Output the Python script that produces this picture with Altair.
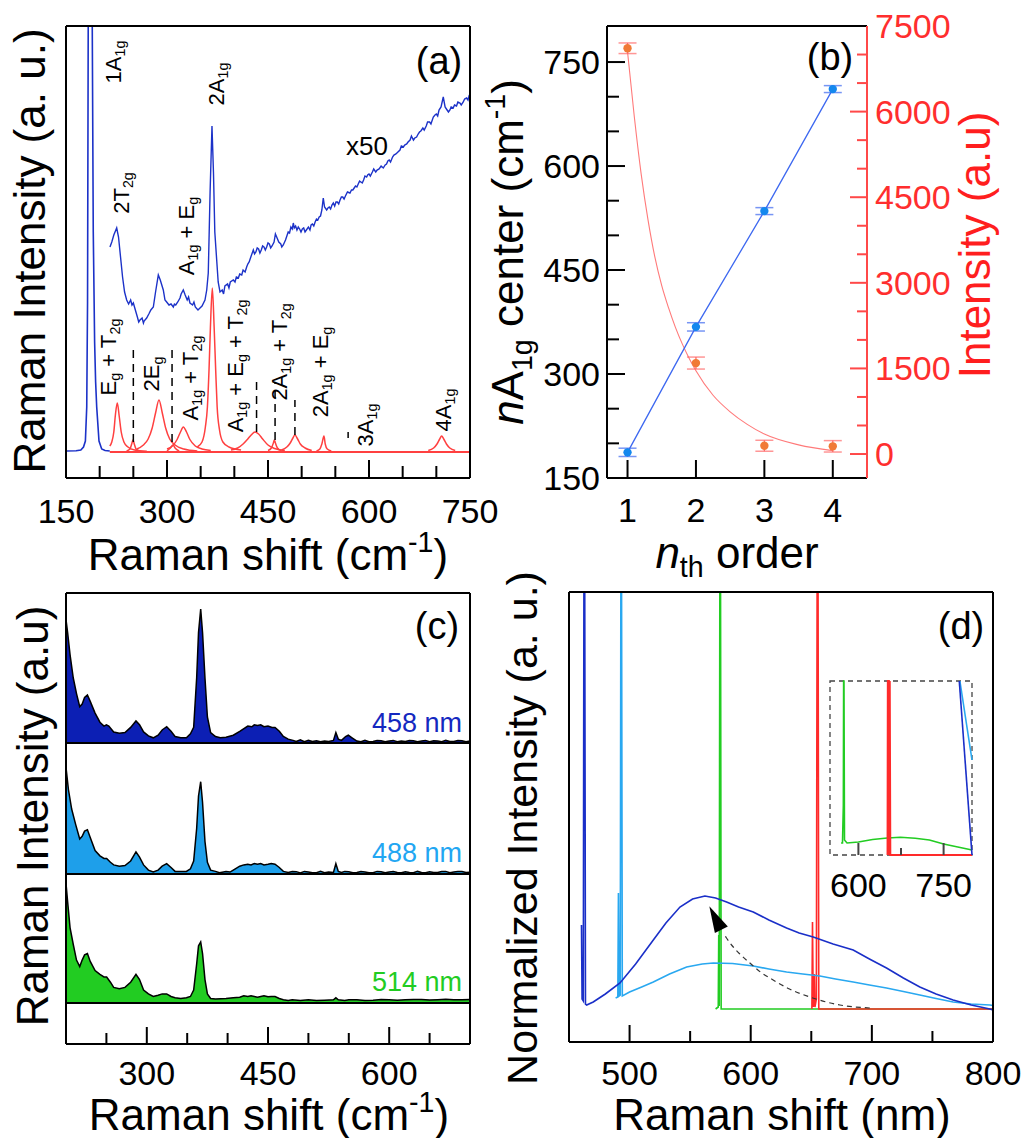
import altair as alt
import pandas as pd

FONT = "Liberation Sans"
W, H = 1027, 1138

# ---------------- Panel (a): Raman spectrum ----------------
A_MAIN = [(150, 0.01), (165, 0.012), (172, 0.02), (176, 0.05), (178.8, 0.11), (180.8, 0.45),
          (182, 1.5), (183, 5.0), (189, 5.0), (190.5, 2.2), (192.5, 1.1), (194, 0.7),
          (195.6, 0.45), (199, 0.11), (203, 0.03), (208, 0.015), (215, 0.01)]
A_X50 = [(215.3, 2.05), (218, 2.1), (221, 2.17), (225.3, 2.24), (228, 2.15), (231, 1.95),
         (234, 1.75), (237, 1.6), (240.1, 1.52), (243, 1.48), (246, 1.52), (248, 1.47), (250, 1.49),
         (253, 1.42), (256, 1.35), (258, 1.3), (259.9, 1.32), (263, 1.34), (265, 1.29), (266, 1.31),
         (269.8, 1.34), (273, 1.38), (276, 1.42), (279.7, 1.45), (283, 1.6), (287.1, 1.77), (290, 1.72),
         (294.5, 1.62), (297, 1.52), (299.5, 1.5), (303, 1.47), (306, 1.48), (309.4, 1.45),
         (311, 1.48), (313, 1.47), (316, 1.5), (319.3, 1.54), (321, 1.58), (324.2, 1.62), (327, 1.57),
         (330, 1.52), (332, 1.55), (334.1, 1.49), (338, 1.47), (340, 1.5), (342, 1.45), (346, 1.42),
         (349, 1.44), (352, 1.46), (356.4, 1.52), (359, 1.62), (361.3, 1.79), (364, 2.6), (366.8, 3.26),
         (369, 2.8), (371, 2.2), (373.8, 1.92), (376, 1.7), (378.7, 1.6), (382, 1.62), (384, 1.58),
         (386, 1.66), (390, 1.68), (392, 1.64), (394, 1.7), (398.5, 1.72), (401, 1.7), (403, 1.75),
         (406, 1.74), (408, 1.78), (411, 1.77), (413, 1.82), (416, 1.8), (418.3, 1.85), (420, 1.88),
         (422, 1.9), (425, 1.96), (428.2, 2.02), (430, 1.98), (432, 2.0), (434, 2.04), (436, 2.03),
         (438, 1.99), (440, 2.02), (442, 2.06), (444, 2.05), (446, 2.02), (448, 2.05), (450, 2.09),
         (452, 2.08), (454, 2.04), (456, 2.06), (459, 2.1), (461, 2.18), (462.9, 2.15), (466, 2.1),
         (469, 2.08), (470.5, 2.05), (472.7, 2.07), (476, 2.12), (478, 2.16), (480, 2.2), (482, 2.19),
         (484, 2.25), (486, 2.23), (487.6, 2.29), (489, 2.24), (491, 2.26), (493, 2.22), (495, 2.25),
         (497, 2.23), (499, 2.2), (501, 2.23), (503, 2.24), (505, 2.2), (507, 2.22), (510, 2.25),
         (512.3, 2.22), (514, 2.27), (516, 2.28), (518, 2.26), (520, 2.3), (522, 2.33), (524, 2.32),
         (526, 2.35), (528, 2.36), (530, 2.42), (532.1, 2.54), (534, 2.45), (537.1, 2.42), (539, 2.44),
         (541, 2.45), (543, 2.43), (545, 2.47), (547, 2.49), (549, 2.46), (551, 2.5), (553, 2.5),
         (555, 2.48), (557, 2.52), (559, 2.55), (561, 2.55), (563, 2.53), (565, 2.56), (568, 2.6),
         (571.7, 2.59), (574, 2.62), (576, 2.62), (578, 2.64), (580, 2.66), (582, 2.65), (584, 2.68),
         (586, 2.71), (588, 2.7), (590, 2.69), (592, 2.72), (594, 2.76), (596.5, 2.75), (598, 2.77),
         (600, 2.78), (602, 2.76), (605, 2.8), (607, 2.83), (610, 2.8), (612, 2.82), (615, 2.83),
         (618, 2.86), (621.2, 2.84), (624, 2.87), (626, 2.88), (628, 2.91), (630, 2.92), (632, 2.9),
         (635, 2.95), (637, 2.97), (640, 2.98), (643, 3.0), (646, 3.02), (648, 3.06), (651, 3.05),
         (653, 3.07), (656, 3.08), (658, 3.1), (661, 3.12), (663, 3.16), (666, 3.12), (668, 3.14),
         (670.7, 3.15), (673, 3.18), (675, 3.2), (677, 3.21), (680, 3.24), (682, 3.22), (685, 3.26),
         (687, 3.3), (690, 3.3), (692, 3.28), (695.5, 3.35), (698, 3.37), (700, 3.38), (702, 3.36),
         (704, 3.42), (707, 3.45), (710.3, 3.55), (713, 3.45), (716, 3.42), (718, 3.4), (720.2, 3.42),
         (722, 3.45), (725, 3.44), (727, 3.47), (730, 3.46), (732, 3.5), (735.1, 3.49), (737, 3.47),
         (740, 3.5), (742, 3.53), (745, 3.54), (747, 3.52), (749, 3.57)]
A_FITS = [
    [(215, 0.06), (218, 0.1), (221, 0.2), (223.5, 0.38), (226.2, 0.49), (229, 0.36), (232, 0.2),
     (236, 0.1), (242, 0.05), (252, 0.02), (270, 0.008)],
    [(240, 0.01), (245, 0.03), (248, 0.09), (249.5, 0.12), (251, 0.09), (254, 0.03), (259, 0.01)],
    [(255, 0.03), (265, 0.07), (272, 0.13), (278, 0.24), (283, 0.39), (288.1, 0.52), (293, 0.39),
     (298, 0.24), (304, 0.13), (312, 0.07), (325, 0.03), (345, 0.01)],
    [(300, 0.01), (305, 0.04), (309, 0.07), (312, 0.04), (318, 0.01)],
    [(300, 0.03), (308, 0.06), (315, 0.125), (320, 0.2), (324.2, 0.25), (329, 0.2), (334, 0.125),
     (342, 0.06), (352, 0.03), (365, 0.015)],
    [(345, 0.05), (352, 0.1), (357, 0.25), (360, 0.45), (362.4, 0.82), (364.5, 1.25), (367.3, 1.64),
     (370, 1.25), (372.3, 0.82), (374.5, 0.45), (378, 0.22), (383, 0.1), (392, 0.05), (410, 0.02)],
    [(395, 0.02), (405, 0.04), (413, 0.08), (420, 0.13), (425, 0.17), (430.7, 0.2), (436, 0.18),
     (442, 0.13), (450, 0.07), (460, 0.035), (475, 0.015)],
    [(450, 0.015), (455, 0.04), (458, 0.09), (459.4, 0.12), (461, 0.09), (464, 0.04), (470, 0.012)],
    [(470, 0.02), (478, 0.05), (483, 0.09), (487, 0.14), (490, 0.17), (494, 0.13), (498, 0.08),
     (505, 0.04), (515, 0.015)],
    [(522, 0.01), (527, 0.03), (530, 0.08), (533.1, 0.16), (535, 0.08), (538, 0.03), (544, 0.01)],
    [(688, 0.015), (696, 0.04), (701, 0.08), (705, 0.13), (707.9, 0.16), (711, 0.13), (715, 0.08),
     (720, 0.04), (728, 0.015)],
]
A_FIT_BASE = [(215, 0.0), (750, 0.0)]
A_DASH_X = [250, 307.5, 433, 460.5, 490, 569]
A_DASH_LO = [0.10, 0.10, 0.20, 0.12, 0.17, 0.14]
A_DASH_HI = [1.04, 1.06, 0.72, 0.69, 0.52, 0.20]
A_TICKS_MINOR = [200, 250, 350, 400, 500, 550, 650, 700]
A_TICKS_MAJOR = [300, 450, 600]
A_LABELS = [150, 300, 450, 600, 750]

# ---------------- Panel (b): nA1g centre and intensity ----------------
B_N = [1, 2, 3, 4]
B_CENTER = [187, 368, 535, 711]
B_CENTER_ERR = [6, 6, 5, 5]
B_INT = [7110, 1594, 145, 135]
B_INT_ERR = [93, 105, 96, 100]
B_FIT = [(1.0, 7050), (1.1, 5900), (1.2, 4900), (1.3, 4100), (1.4, 3450), (1.5, 2950),
         (1.6, 2560), (1.7, 2220), (1.8, 1930), (1.9, 1680), (2.0, 1460), (2.25, 1030),
         (2.5, 740), (2.75, 520), (3.0, 350), (3.5, 160), (4.0, 60)]
B_LEFT_MINOR = [200, 250, 350, 400, 500, 550, 650, 700]
B_LEFT_MAJOR = [300, 450, 600, 750]
B_LEFT_LABELS = [150, 300, 450, 600, 750]
B_RIGHT_MINOR = [500, 1000, 2000, 2500, 3500, 4000, 5000, 5500, 6500, 7000]
B_RIGHT_MAJOR = [0, 1500, 3000, 4500, 6000, 7500]
B_RIGHT_LABELS = [0, 1500, 3000, 4500, 6000, 7500]

# ---------------- Panel (c): spectra at three excitations ----------------
C_458 = [(200, 0.95), (202, 0.85), (205, 0.68), (209, 0.5), (213, 0.38), (217, 0.28), (220, 0.3),
         (223, 0.35), (226.5, 0.37), (230, 0.32), (236, 0.23), (242, 0.16), (247, 0.13), (250, 0.14),
         (253, 0.13), (259, 0.085), (266, 0.075), (273, 0.08), (280, 0.12), (286.6, 0.17), (291, 0.14),
         (296, 0.085), (302, 0.055), (308, 0.04), (314, 0.06), (319, 0.1), (324.6, 0.125), (330, 0.09),
         (335, 0.05), (342, 0.04), (349, 0.04), (354, 0.07), (358, 0.12), (361.7, 0.5), (364, 0.85),
         (366.7, 1.03), (369, 0.85), (372, 0.5), (375, 0.2), (379, 0.08), (385, 0.05), (391, 0.04),
         (398, 0.045), (407, 0.06), (415, 0.09), (425, 0.13), (430, 0.125), (433, 0.14), (437, 0.135),
         (441, 0.14), (445, 0.125), (450, 0.13), (455, 0.12), (458.7, 0.12), (464, 0.09), (469, 0.05),
         (475, 0.03), (481, 0.02), (485, 0.012), (490, 0.025), (495, 0.01), (500, 0.02), (505, 0.012),
         (510, 0.018), (515, 0.01), (520, 0.015), (525, 0.012), (531, 0.02), (534, 0.08), (537, 0.03),
         (541, 0.02), (546, 0.05), (549.4, 0.06), (554, 0.04), (560, 0.015), (565, 0.01), (570, 0.02),
         (575, 0.01), (580, 0.012), (585, 0.02), (590, 0.018), (595, 0.01), (600, 0.015), (605, 0.02),
         (610, 0.01), (615, 0.016), (620, 0.012), (625, 0.02), (630, 0.018), (635, 0.01), (640, 0.015),
         (645, 0.02), (650, 0.01), (655, 0.017), (660, 0.015), (665, 0.01), (670, 0.02), (675, 0.012),
         (680, 0.012), (685, 0.02), (690, 0.018), (695, 0.01), (700, 0.015)]
C_488 = [(200, 0.82), (203, 0.65), (207, 0.5), (212, 0.38), (217, 0.27), (220, 0.29), (223, 0.33),
         (226.5, 0.34), (230, 0.28), (236, 0.18), (242, 0.14), (247, 0.12), (250.3, 0.12), (255, 0.09),
         (259, 0.07), (266, 0.06), (273, 0.065), (280, 0.1), (286.6, 0.17), (291, 0.13), (296, 0.07),
         (302, 0.03), (308, 0.015), (314, 0.03), (319, 0.06), (324.6, 0.08), (330, 0.05), (335, 0.02),
         (342, 0.02), (349, 0.02), (354, 0.04), (358, 0.1), (361.7, 0.35), (364, 0.6), (366.7, 0.71),
         (369, 0.55), (372, 0.25), (375, 0.09), (379, 0.03), (385, 0.02), (390, 0.01), (398, 0.02),
         (403, 0.015), (407, 0.03), (415, 0.06), (420, 0.07), (425, 0.075), (429, 0.07), (433, 0.08),
         (437, 0.075), (441, 0.08), (445, 0.07), (450, 0.075), (454, 0.08), (458.7, 0.075),
         (464, 0.05), (469, 0.02), (475, 0.012), (480, 0.02), (485, 0.018), (490, 0.008), (495, 0.02),
         (500, 0.015), (505, 0.01), (510, 0.01), (515, 0.02), (520, 0.01), (525, 0.015), (531, 0.012),
         (534, 0.08), (537, 0.02), (541, 0.012), (545, 0.02), (550, 0.018), (555, 0.01), (560, 0.012),
         (565, 0.02), (570, 0.015), (575, 0.01), (580, 0.01), (585, 0.02), (590, 0.018), (595, 0.01),
         (600, 0.015), (605, 0.02), (610, 0.012), (615, 0.01), (620, 0.018), (625, 0.012), (630, 0.01),
         (635, 0.02), (640, 0.012), (645, 0.01), (650, 0.018), (655, 0.012), (660, 0.012),
         (665, 0.02), (670, 0.02), (675, 0.01), (680, 0.015), (685, 0.02), (690, 0.02), (695, 0.012),
         (700, 0.013)]
C_514 = [(200, 0.92), (202, 0.78), (205, 0.58), (209, 0.45), (213, 0.33), (217, 0.28), (220, 0.33),
         (223, 0.37), (226.5, 0.38), (230, 0.32), (236, 0.25), (242, 0.22), (247, 0.2), (250.3, 0.2),
         (255, 0.16), (259, 0.12), (266, 0.11), (273, 0.12), (280, 0.16), (286.6, 0.22), (291, 0.18),
         (296, 0.1), (302, 0.07), (308, 0.05), (314, 0.06), (319, 0.07), (324.6, 0.07), (330, 0.05),
         (335, 0.04), (342, 0.035), (349, 0.04), (354, 0.05), (358, 0.1), (361.7, 0.3), (364, 0.44),
         (366.7, 0.47), (369, 0.38), (372, 0.18), (375, 0.07), (379, 0.035), (385, 0.03), (398, 0.035),
         (407, 0.04), (415, 0.045), (420, 0.055), (425, 0.05), (429, 0.055), (433, 0.05), (437, 0.045),
         (441, 0.05), (445, 0.055), (450, 0.048), (454, 0.05), (458.7, 0.05), (464, 0.035),
         (469, 0.025), (475, 0.02), (480, 0.025), (490, 0.02), (500, 0.025), (510, 0.02), (520, 0.022),
         (531, 0.025), (534, 0.04), (537, 0.025), (545, 0.02), (550, 0.025), (560, 0.025), (570, 0.02),
         (580, 0.022), (590, 0.027), (600, 0.025), (610, 0.022), (620, 0.025), (630, 0.027),
         (640, 0.027), (650, 0.023), (660, 0.025), (670, 0.028), (680, 0.025), (690, 0.025),
         (700, 0.027)]
C_TICKS_MINOR = [250, 350, 400, 500, 550, 650]
C_TICKS_MAJOR = [300, 450, 600]
C_LABELS = [300, 450, 600]

# ---------------- Panel (d): normalised spectra ----------------
D_458 = [(460.3, 0.84), (460.8, 0.1), (461.8, 0.08), (462.3, 6.0), (463.0, 6.0), (463.6, 0.05),
         (464.6, 0.04), (470, 0.07), (480, 0.15), (492.1, 0.26), (505, 0.45), (519.6, 0.69),
         (530, 0.86), (541.6, 1.02), (552, 1.1), (562.2, 1.13), (571, 1.11), (580.1, 1.07),
         (590, 1.02), (602.1, 0.97), (615, 0.89), (629.6, 0.81), (640, 0.76), (651.6, 0.72),
         (668, 0.65), (684.6, 0.59), (698, 0.5), (712.1, 0.41), (726, 0.31), (739.6, 0.22),
         (753, 0.15), (767.1, 0.09), (782, 0.04), (797.4, 0.0), (800, -0.01)]
D_488 = [(488.5, 0.11), (490.3, 0.12), (490.8, 1.16), (491.3, 0.13), (492.3, 0.14), (492.8, 6.0),
         (493.4, 6.0), (494.0, 0.13), (500, 0.17), (510, 0.22), (519.6, 0.27), (533, 0.35),
         (547.1, 0.42), (560, 0.45), (569.1, 0.46), (585, 0.455), (602.1, 0.43), (615, 0.4),
         (629.6, 0.37), (643, 0.35), (657.1, 0.33), (670, 0.3), (684.6, 0.27), (698, 0.24),
         (712.1, 0.21), (726, 0.175), (739.6, 0.14), (753, 0.105), (767.1, 0.07), (782, 0.05),
         (797.4, 0.04), (800, 0.035)]
D_514 = [(571, 0.0), (573.2, 0.02), (573.6, 0.74), (574.0, 0.03), (574.5, 6.0), (575.1, 6.0),
         (575.6, 0.0), (800, 0.0)]
D_633 = [(650.5, 0.0), (651, 0.87), (651.6, 0.02), (652.5, 0.35), (653, 0.02), (654.2, 0.1),
         (654.8, 6.0), (655.6, 6.0), (656.2, 0.0), (800, 0.0)]
D_ARROW = [(698.3, 0.01), (673.6, 0.04), (648.8, 0.12), (632, 0.2), (618.5, 0.29), (608, 0.37),
           (599.3, 0.46), (591, 0.55), (585.6, 0.62), (580, 0.71), (577.3, 0.76)]
D_ARROW_HEAD = [(570.8, 0.91)]
D_TICKS_MINOR = [550, 650, 750]
D_TICKS_MAJOR = [500, 600, 700]
D_LABELS = [500, 600, 700, 800]
# inset
I_514 = [(569.5, 0.12), (572, 0.12), (573.5, 0.5), (574, 2.0), (574.6, 2.0), (575.5, 0.15),
         (580, 0.12), (600, 0.13), (625, 0.155), (651, 0.17), (674, 0.177), (700, 0.168),
         (725, 0.15), (750, 0.11), (775, 0.08), (800, 0.05)]
I_633 = [(651.5, 0.0), (652, 2.0), (653.5, 2.0), (654, 0.0), (655, 2.0), (656, 0.0), (800, 0.0)]
I_458 = [(777.6, 1.74), (800, 0.0)]
I_488 = [(778.7, 1.74), (800, 0.95)]
I_TICKS_MAJOR = [600, 750]
I_TICKS_MINOR = [675]
I_LABELS = [600, 750]

# ---------------- colours ----------------
BLUE_A = "#1c32c8"
RED_A = "#ff4040"
C458, C488, C514, C633 = "#0c1fb4", "#1e9fea", "#22cc22", "#ff2a2a"
AXRED = "#ff4848"

# ---------------- scales (each panel placed by its pixel range) ----------------
A_BOX = (66, 470, 26, 478)
B_BOX = (607, 867, 26, 478)
C_BOX = (66, 470, 593, 1044)
D_BOX = (569, 993, 592, 1042)


def sx(dom, box):
    return alt.Scale(domain=dom, range=[box[0], box[1]])


def sy(dom, box, clamp=False):
    if clamp:
        return alt.Scale(domain=dom, range=[box[3], box[2]], clamp=True)
    return alt.Scale(domain=dom, range=[box[3], box[2]])


SA_X, SA_Y = sx([150, 750], A_BOX), sy([-0.26, 4.26], A_BOX, True)
SB_X, SB_YL, SB_YR = sx([0.7, 4.5], B_BOX), sy([150, 802], B_BOX), sy([-420, 7500], B_BOX)
SC_X = sx([200, 700], C_BOX)
SC_Y458 = alt.Scale(domain=[0, 1.154], range=[743, 593], clamp=True)
SC_Y488 = alt.Scale(domain=[0, 1], range=[874, 744], clamp=True)
SC_Y514 = alt.Scale(domain=[0, 1], range=[1003, 873], clamp=True)
SD_X, SD_Y = sx([450, 800], D_BOX), sy([-0.33, 4.17], D_BOX, True)
SI_X = alt.Scale(domain=[550, 800], range=[830, 972])
SI_Y = alt.Scale(domain=[0, 1.74], range=[855, 681], clamp=True)

ONE = pd.DataFrame({"k": [0]})
layers = []


def line(pts, xsc, ysc, color, width=1.5, dash=None, interp=None):
    df = pd.DataFrame(pts, columns=["x", "y"])
    df["i"] = range(len(df))
    kw = dict(color=color, strokeWidth=width)
    if dash:
        kw["strokeDash"] = dash
    if interp:
        kw["interpolate"] = interp
    return alt.Chart(df).mark_line(**kw).encode(
        x=alt.X("x:Q", scale=xsc, axis=None),
        y=alt.Y("y:Q", scale=ysc, axis=None),
        order=alt.Order("i:Q"))


def area(pts, xsc, ysc, color):
    df = pd.DataFrame(pts, columns=["x", "y"])
    return alt.Chart(df).mark_area(color=color, opacity=1).encode(
        x=alt.X("x:Q", scale=xsc, axis=None),
        y=alt.Y("y:Q", scale=ysc, axis=None))


def xticks(vals, xsc, ybot, length, color="black"):
    df = pd.DataFrame({"t": vals})
    return alt.Chart(df).mark_rule(color=color, strokeWidth=2).encode(
        x=alt.X("t:Q", scale=xsc, axis=None), y=alt.value(ybot), y2=alt.value(ybot - length))


def yticks(vals, ysc, xedge, length, color="black"):
    df = pd.DataFrame({"t": vals})
    return alt.Chart(df).mark_rule(color=color, strokeWidth=2).encode(
        y=alt.Y("t:Q", scale=ysc, axis=None), x=alt.value(xedge), x2=alt.value(xedge + length))


def xlabels(vals, xsc, ybase, color="black", size=34):
    df = pd.DataFrame({"v": vals, "s": [str(v) for v in vals]})
    return alt.Chart(df).mark_text(font=FONT, fontSize=size, align="center", baseline="alphabetic",
                                   color=color).encode(
        x=alt.X("v:Q", scale=xsc, axis=None), y=alt.value(ybase), text="s:N")


def ylabels(vals, ysc, xpos, align, color="black", size=34):
    df = pd.DataFrame({"v": vals, "s": [str(v) for v in vals]})
    return alt.Chart(df).mark_text(font=FONT, fontSize=size, align=align, baseline="alphabetic",
                                   dy=12, color=color).encode(
        y=alt.Y("v:Q", scale=ysc, axis=None), x=alt.value(xpos), text="s:N")


def hrule(x0, x1, y, color="black", w=2):
    return alt.Chart(ONE).mark_rule(color=color, strokeWidth=w).encode(
        x=alt.value(x0), x2=alt.value(x1), y=alt.value(y))


def vrule(x, y0, y1, color="black", w=2):
    return alt.Chart(ONE).mark_rule(color=color, strokeWidth=w).encode(
        x=alt.value(x), y=alt.value(y0), y2=alt.value(y1))


def frame(box, color="black"):
    x0, x1, y0, y1 = box
    return [hrule(x0, x1, y0, color), hrule(x0, x1, y1, color),
            vrule(x0, y0, y1, color), vrule(x1, y0, y1, color)]


# ---------------- text helpers (sub/superscripts as separate pieces) ----------------
AW = {' ': 278, '(': 333, ')': 333, '+': 584, '-': 333, '.': 278, 'A': 667, 'E': 667, 'I': 278,
      'N': 722, 'R': 722, 'T': 611, 'a': 556, 'c': 500, 'd': 556, 'e': 556, 'f': 278, 'g': 556,
      'h': 556, 'i': 222, 'l': 222, 'm': 833, 'n': 556, 'o': 556, 'r': 333, 's': 500, 't': 278,
      'u': 556, 'x': 500, 'y': 500, 'z': 500}


def tw(s, fs):
    return sum(AW.get(c, 556) for c in s) * fs / 1000.0


def segp(kind, size):
    if kind == "sub":
        return size * 0.65, size * 0.2
    if kind == "sup":
        return size * 0.65, -size * 0.42
    return size, 0.0


TEXT = []


def hlabel(segs, x, y, size, color="black", align="center"):
    ws = [tw(t, segp(k, size)[0]) for t, k in segs]
    tot = sum(ws)
    cur = x - tot / 2 if align == "center" else (x - tot if align == "right" else x)
    for (t, k), w in zip(segs, ws):
        fs, sh = segp(k, size)
        lead = len(t) - len(t.lstrip(" "))
        TEXT.append(dict(px=cur + tw(" " * lead, fs), py=y + sh, t=t.strip(), fs=fs, ang=0,
                         col=color, it=1 if k == "it" else 0))
        cur += w


def vlabel(segs, x, y, size, color="black"):
    ws = [tw(t, segp(k, size)[0]) for t, k in segs]
    tot = sum(ws)
    cur = y + tot / 2
    for (t, k), w in zip(segs, ws):
        fs, sh = segp(k, size)
        lead = len(t) - len(t.lstrip(" "))
        TEXT.append(dict(px=x + sh, py=cur - tw(" " * lead, fs), t=t.strip(), fs=fs, ang=270,
                         col=color, it=1 if k == "it" else 0))
        cur -= w


# ---------------- Panel (a) layers ----------------
layers.append(line(A_FIT_BASE, SA_X, SA_Y, RED_A, 2))
for pk in A_FITS:
    layers.append(line(pk, SA_X, SA_Y, RED_A, 1.5, interp="monotone"))
layers.append(line(A_MAIN, SA_X, SA_Y, BLUE_A, 1.6))
layers.append(line(A_X50, SA_X, SA_Y, BLUE_A, 1.4))
dash_df = pd.DataFrame({"x": A_DASH_X, "lo": A_DASH_LO, "hi": A_DASH_HI})
layers.append(alt.Chart(dash_df).mark_rule(color="black", strokeWidth=1.5, strokeDash=[8, 6]).encode(
    x=alt.X("x:Q", scale=SA_X, axis=None), y=alt.Y("lo:Q", scale=SA_Y, axis=None), y2="hi:Q"))
layers.append(xticks(A_TICKS_MINOR, SA_X, 478, 12))
layers.append(xticks(A_TICKS_MAJOR, SA_X, 478, 18))
layers.append(xlabels(A_LABELS, SA_X, 523))
layers += frame(A_BOX)

vlabel([("Raman Intensity (a. u.)", "n")], 45, 251, 44)
hlabel([("Raman shift (cm", "n"), ("-1", "sup"), (")", "n")], 268, 570, 44)
hlabel([("(a)", "n")], 439, 74, 38)
hlabel([("x50", "n")], 367, 155, 26)
ANNOT_A = [
    ([("1A", "n"), ("1g", "sub")], 121, 62),
    ([("2T", "n"), ("2g", "sub")], 129, 193),
    ([("A", "n"), ("1g", "sub"), (" + E", "n"), ("g", "sub")], 194, 236),
    ([("2A", "n"), ("1g", "sub")], 224, 84),
    ([("E", "n"), ("g", "sub"), (" + T", "n"), ("2g", "sub")], 116, 357),
    ([("2E", "n"), ("g", "sub")], 159, 374),
    ([("A", "n"), ("1g", "sub"), (" + T", "n"), ("2g", "sub")], 198, 378),
    ([("A", "n"), ("1g", "sub"), (" + E", "n"), ("g", "sub"), (" + T", "n"), ("2g", "sub")], 243, 366),
    ([("2A", "n"), ("1g", "sub"), (" + T", "n"), ("2g", "sub")], 287, 352),
    ([("2A", "n"), ("1g", "sub"), (" + E", "n"), ("g", "sub")], 328, 372),
    ([("3A", "n"), ("1g", "sub")], 373, 425),
    ([("4A", "n"), ("1g", "sub")], 451, 410),
]
for segs, bx, cy in ANNOT_A:
    vlabel(segs, bx, cy, 22)

# ---------------- Panel (b) layers ----------------
bdf = pd.DataFrame({"n": B_N, "c": B_CENTER, "ce": B_CENTER_ERR, "i": B_INT, "ie": B_INT_ERR})
bdf["clo"] = bdf["c"] - bdf["ce"]
bdf["chi"] = bdf["c"] + bdf["ce"]
bdf["ilo"] = bdf["i"] - bdf["ie"]
bdf["ihi"] = bdf["i"] + bdf["ie"]
layers.append(line(B_FIT, SB_X, SB_YR, "#ff7a7a", 1.1, interp="monotone"))
layers.append(line(list(zip(B_N, B_CENTER)), SB_X, SB_YL, "#3d68f0", 1.3))
bx = alt.X("n:Q", scale=SB_X, axis=None)
for lo, hi, sc, col in [("clo", "chi", SB_YL, "#3d68f0"), ("ilo", "ihi", SB_YR, "#ff6a6a")]:
    layers.append(alt.Chart(bdf).mark_rule(color=col, strokeWidth=1.3).encode(
        x=bx, y=alt.Y(lo + ":Q", scale=sc, axis=None), y2=hi + ":Q"))
    for f in (lo, hi):
        layers.append(alt.Chart(bdf).mark_tick(color=col, orient="horizontal", size=18, thickness=1.5).encode(
            x=bx, y=alt.Y(f + ":Q", scale=sc, axis=None)))
layers.append(alt.Chart(bdf).mark_circle(color="#1488ee", size=70, opacity=1).encode(
    x=bx, y=alt.Y("c:Q", scale=SB_YL, axis=None)))
layers.append(alt.Chart(bdf).mark_circle(color="#f07a36", size=70, opacity=1).encode(
    x=bx, y=alt.Y("i:Q", scale=SB_YR, axis=None)))
layers.append(xticks(B_N, SB_X, 478, 18))
layers.append(yticks(B_LEFT_MINOR, SB_YL, 607, 12))
layers.append(yticks(B_LEFT_MAJOR, SB_YL, 607, 18))
layers.append(yticks(B_RIGHT_MINOR, SB_YR, 867, -10, AXRED))
layers.append(yticks(B_RIGHT_MAJOR, SB_YR, 867, -17, AXRED))
layers.append(xlabels(B_N, SB_X, 522))
layers.append(ylabels(B_LEFT_LABELS, SB_YL, 600, "right"))
layers.append(ylabels(B_RIGHT_LABELS, SB_YR, 875, "left", color="#ff2e2e"))
layers += [hrule(607, 867, 26), hrule(607, 867, 478), vrule(607, 26, 478), vrule(867, 26, 478, AXRED)]

vlabel([("n", "it"), ("A", "n"), ("1g", "sub"), (" center (cm", "n"), ("-1", "sup"), (")", "n")], 523, 252, 44)
vlabel([("Intensity (a.u)", "n")], 990, 245, 44, "#ff1e1e")
hlabel([("n", "it"), ("th", "sub"), (" order", "n")], 737, 568, 44)
hlabel([("(b)", "n")], 830, 70, 38)

# ---------------- Panel (c) layers ----------------
for pts, sc, col in [(C_458, SC_Y458, C458), (C_488, SC_Y488, C488), (C_514, SC_Y514, C514)]:
    layers.append(area(pts, SC_X, sc, col))
    layers.append(line(pts, SC_X, sc, "black", 1.5))
layers.append(xticks(C_TICKS_MINOR, SC_X, 1044, 11))
layers.append(xticks(C_TICKS_MAJOR, SC_X, 1044, 17))
layers.append(xlabels(C_LABELS, SC_X, 1085))
layers += frame(C_BOX)
layers += [hrule(66, 470, 743), hrule(66, 470, 874), hrule(66, 470, 1003)]

vlabel([("Raman Intensity (a.u)", "n")], 48, 816, 44)
hlabel([("Raman shift (cm", "n"), ("-1", "sup"), (")", "n")], 269, 1130, 44)
hlabel([("(c)", "n")], 437, 639, 38)
hlabel([("458 nm", "n")], 462, 732, 27, "#1428c0", "right")
hlabel([("488 nm", "n")], 462, 862, 27, "#22a6f2", "right")
hlabel([("514 nm", "n")], 462, 991, 27, "#22cc22", "right")

# ---------------- Panel (d) layers ----------------
layers.append(line(D_514, SD_X, SD_Y, C514, 1.6))
layers.append(line(D_633, SD_X, SD_Y, C633, 1.6))
layers.append(line(D_488, SD_X, SD_Y, "#29a8f0", 1.6))
layers.append(line(D_458, SD_X, SD_Y, "#1a2fc8", 1.6))
layers.append(line(D_ARROW, SD_X, SD_Y, "#333333", 1.2, dash=[5, 4], interp="monotone"))
ah = pd.DataFrame(D_ARROW_HEAD, columns=["x", "y"])
layers.append(alt.Chart(ah).mark_point(shape="M0,-1L0.55,1L-0.55,1Z", filled=True, color="black",
                                       size=700, angle=333, opacity=1).encode(
    x=alt.X("x:Q", scale=SD_X, axis=None), y=alt.Y("y:Q", scale=SD_Y, axis=None)))
layers.append(xticks(D_TICKS_MINOR, SD_X, 1042, 11))
layers.append(xticks(D_TICKS_MAJOR, SD_X, 1042, 17))
layers.append(xlabels(D_LABELS, SD_X, 1085))
# inset
box_df = pd.DataFrame({"x0": [550], "x1": [800], "y0": [0], "y1": [1.74]})
layers.append(alt.Chart(box_df).mark_rect(fillOpacity=0, stroke="#444444", strokeWidth=1.3,
                                          strokeDash=[5, 4]).encode(
    x=alt.X("x0:Q", scale=SI_X, axis=None), x2="x1:Q",
    y=alt.Y("y0:Q", scale=SI_Y, axis=None), y2="y1:Q"))
layers.append(line(I_514, SI_X, SI_Y, C514, 1.6))
layers.append(line(I_633, SI_X, SI_Y, C633, 2.2))
layers.append(line(I_488, SI_X, SI_Y, "#29a8f0", 1.6))
layers.append(line(I_458, SI_X, SI_Y, "#1a2fc8", 1.6))
layers.append(xticks(I_TICKS_MAJOR, SI_X, 855, 12, "#444444"))
layers.append(xticks(I_TICKS_MINOR, SI_X, 855, 7, "#444444"))
layers.append(xlabels(I_LABELS, SI_X, 897))
layers += frame(D_BOX)

vlabel([("Normalized Intensity (a. u.)", "n")], 537, 828, 43)
hlabel([("Raman shift (nm)", "n")], 782, 1130, 44)
hlabel([("(d)", "n")], 961, 639, 38)

# ---------------- text layers ----------------
tdf = pd.DataFrame(TEXT)
for it, style in [(0, "normal"), (1, "italic")]:
    sub = tdf[tdf["it"] == it]
    layers.append(alt.Chart(sub).mark_text(font=FONT, fontStyle=style, align="left",
                                           baseline="alphabetic").encode(
        x=alt.X("px:Q", scale=None, axis=None),
        y=alt.Y("py:Q", scale=None, axis=None),
        text="t:N",
        size=alt.Size("fs:Q", scale=None, legend=None),
        angle=alt.Angle("ang:Q", scale=None, legend=None),
        color=alt.Color("col:N", scale=None, legend=None)))

chart = alt.layer(*layers).resolve_scale(x="independent", y="independent").properties(
    width=W, height=H, padding=0, background="white",
    autosize=alt.AutoSizeParams(type="none")
).configure_view(strokeWidth=0)

chart.save("out.html", embed_options={"renderer": "svg", "actions": False})
